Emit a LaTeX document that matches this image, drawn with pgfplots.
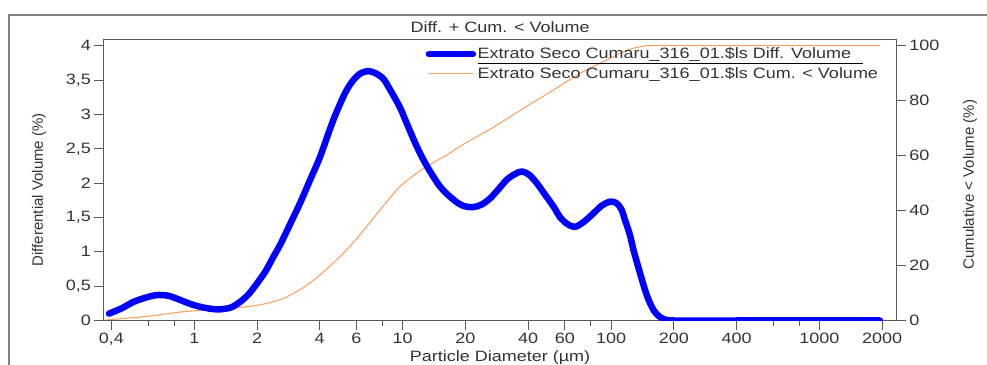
\documentclass[border=0pt]{standalone}
\usepackage{pgfplots}
\pgfplotsset{compat=1.18}
\usepackage{fontspec}
\setmainfont{Liberation Sans}[FakeStretch=1.2]
\newfontfamily\labelfont{Liberation Sans}
\definecolor{axgray}{HTML}{5A5A5A}
\definecolor{txt}{HTML}{333333}
\definecolor{cumorange}{HTML}{F8A366}
\definecolor{diffblue}{HTML}{0000FF}
\newcommand{\tf}{\fontsize{15bp}{18bp}\selectfont}

\pgfplotstableread{
x y
0.39 0.10
0.45 0.18
0.51 0.27
0.58 0.33
0.66 0.37
0.75 0.36
0.854 0.30
0.96 0.24
1.065 0.20
1.2 0.17
1.33 0.163
1.5 0.19
1.657 0.27
1.82 0.38
2.0 0.54
2.2 0.72
2.39 0.92
2.58 1.10
2.88 1.40
3.22 1.71
3.6 2.05
4.01 2.38
4.65 2.92
5.29 3.31
5.8 3.50
6.3 3.60
6.84 3.63
7.4 3.60
8.07 3.52
8.7 3.36
9.71 3.10
10.46 2.87
11.7 2.53
13.0 2.26
15.1 1.95
17.5 1.76
19.5 1.67
21.8 1.65
24 1.69
26.3 1.78
29 1.92
31.6 2.05
34.5 2.13
37.3 2.17
40.5 2.12
44.0 2.00
48 1.84
52.9 1.66
57 1.50
61.3 1.41
65 1.37
68.5 1.37
75 1.45
82.3 1.56
90 1.67
98.9 1.73
106 1.71
112 1.62
117 1.45
123 1.25
128 1.03
135 0.78
143 0.52
150 0.33
160 0.15
170 0.06
180 0.02
200 0.0
400 0.0
1000 0.0
1950 0.0
}\diffdata

\pgfplotstableread{
x y
0.37 0.1
0.45 0.7
0.613 1.6
0.886 3.2
1.28 4.1
1.92 5.3
2.49 7.2
2.9 9.3
3.34 12.0
3.9 15.8
4.48 19.8
5.2 24.5
6.02 29.8
7.79 40.2
9.71 48.7
12.6 55.3
16.3 60.2
18.8 63.3
23.5 67.5
27.3 70.3
39.4 77.9
52.9 83.8
71 89.9
95.4 94.7
115 97.8
128 99.0
145 99.8
170 100
400 100
1000 100
1950 100
}\cumdata

\begin{document}
\begin{tikzpicture}
\useasboundingbox (0,0) rectangle (987bp,365bp);
% right axis: cumulative
\begin{semilogxaxis}[
  scale only axis, width=793.5bp, height=280.5bp,
  at={(103.3bp,44.5bp)}, anchor=south west,
  xmin=0.366, xmax=2350,
  axis line style={axgray, line width=1bp},
  tick style={axgray, line width=0.9bp},
  tick align=outside,
  major tick length=9bp, minor tick length=5bp,
  every tick label/.append style={font=\tf, text=txt},
  axis x line=none, axis y line*=right,
  ymin=0, ymax=102,
  ytick={0,20,40,60,80,100},
  yticklabels={0,20,40,60,80,100},
  ylabel={Cumulative < Volume (\%)},
  ylabel style={font=\labelfont\fontsize{15bp}{18bp}\selectfont, text=txt, at={(axis description cs:1.0923,0.484)}, anchor=center},
]
\addplot[cumorange, line width=1.1bp, smooth] table[x=x,y=y] {\cumdata};
\end{semilogxaxis}
% left axis: differential
\begin{semilogxaxis}[
  scale only axis, width=793.5bp, height=280.5bp,
  at={(103.3bp,44.5bp)}, anchor=south west,
  xmin=0.366, xmax=2350,
  axis line style={axgray, line width=1bp},
  tick style={axgray, line width=0.9bp},
  tick align=outside,
  major tick length=9bp, minor tick length=5bp,
  every tick label/.append style={font=\tf, text=txt},
  xtick pos=bottom, ytick pos=left,
  ymin=0, ymax=4.083,
  ytick={0,0.5,1,1.5,2,2.5,3,3.5,4},
  yticklabels={0,{0,5},1,{1,5},2,{2,5},3,{3,5},4},
  xtick={0.4,1,2,4,6,10,20,40,60,100,200,400,1000,2000},
  xticklabels={{0,4},1,2,4,6,10,20,40,60,100,200,400,1000,2000},
  minor xtick={0.6,0.8,8,80,600,800},
  xlabel={Particle Diameter (µm)},
  xlabel style={font=\tf, text=txt, at={(axis description cs:0.5,0)}, anchor=base, yshift=-40.5bp},
  ylabel={Differential Volume (\%)},
  ylabel style={font=\labelfont\fontsize{15bp}{18bp}\selectfont, text=txt, at={(axis description cs:-0.081,0.466)}, anchor=center},
  title={Diff. + Cum. < Volume},
  title style={font=\tf, text=txt, at={(axis description cs:0.5,1)}, anchor=base, yshift=2bp},
  legend style={draw=none, fill=none, at={(axis description cs:0.406,0.978)}, anchor=north west,
    inner sep=0pt, font=\tf, text=txt, row sep=3.5bp, nodes={inner sep=1.5bp}},
  legend cell align=left,
  legend image code/.code={\draw[line cap=round] (0bp,0bp) -- (44bp,0bp);},
]
\addplot[diffblue, line width=6.5bp, line cap=round, line join=round, smooth] table[x=x,y=y] {\diffdata};
\addlegendentry{\makebox[0pt][l]{\color{black}\rule[-4.8bp]{385bp}{0.9bp}}Extrato Seco Cumaru\_316\_01.\$ls Diff. Volume}
\addlegendimage{cumorange, line width=1.1bp}
\addlegendentry{Extrato Seco Cumaru\_316\_01.\$ls Cum. < Volume}
\end{semilogxaxis}
\draw[gray, line width=1.5bp] (9bp,0bp) -- (9bp,350bp) -- (987bp,350bp);
\end{tikzpicture}
\end{document}
